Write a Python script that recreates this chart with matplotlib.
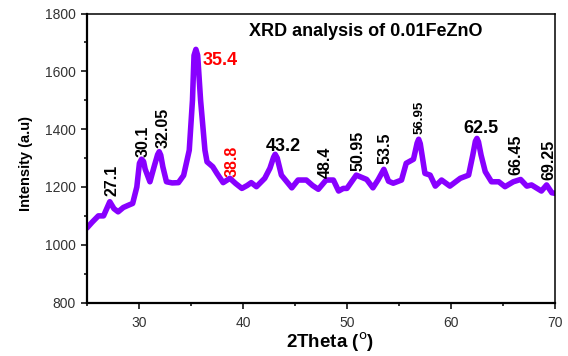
import numpy as np
import matplotlib
matplotlib.use("Agg")
from matplotlib import pyplot as plt
from matplotlib.ticker import MultipleLocator

plt.rcParams['font.family'] = ['Liberation Sans', 'DejaVu Sans']

# diffractogram, 2theta (deg) vs counts
two_theta = [25.0, 25.5, 26.1, 26.6, 27.2, 27.6, 28.0, 28.5, 29.0, 29.4,
             29.8, 30.05, 30.25, 30.45, 30.6, 31.06, 31.5, 31.8, 31.95, 32.1,
             32.3, 32.65, 33.2, 33.8, 34.3, 34.84, 35.15, 35.3, 35.48, 35.65,
             35.93, 36.35, 36.55, 37.1, 37.5, 38.1, 38.75, 39.3, 39.9, 40.4,
             40.8, 41.3, 42.1, 42.6, 42.95, 43.1, 43.3, 43.7, 44.7, 45.3,
             46.1, 46.7, 47.25, 48.0, 48.7, 49.2, 49.65, 50.0, 50.9, 51.9,
             52.5, 53.0, 53.55, 54.0, 54.45, 55.25, 55.7, 56.1, 56.4, 56.75,
             56.9, 57.05, 57.5, 58.0, 58.5, 59.1, 59.9, 60.9, 61.7, 62.1,
             62.35, 62.5, 62.65, 62.9, 63.3, 63.9, 64.6, 65.2, 66.0, 66.7,
             67.3, 67.75, 68.7, 69.2, 69.7, 70.0]
intensity = [1058, 1078, 1100, 1100, 1149, 1125, 1114, 1129, 1137, 1143,
             1200, 1282, 1296, 1288, 1262, 1218, 1275, 1312, 1322, 1310,
             1270, 1218, 1214, 1215, 1240, 1327, 1500, 1655, 1676, 1655,
             1500, 1327, 1287, 1270, 1247, 1215, 1230, 1212, 1195, 1205,
             1215, 1201, 1230, 1265, 1303, 1313, 1300, 1241, 1197, 1224,
             1224, 1205, 1192, 1224, 1224, 1186, 1195, 1195, 1241, 1226,
             1197, 1225, 1261, 1220, 1213, 1224, 1282, 1290, 1296, 1352,
             1365, 1350, 1247, 1241, 1203, 1224, 1203, 1230, 1241, 1310,
             1358, 1368, 1356, 1310, 1253, 1218, 1218, 1201, 1218, 1226,
             1203, 1207, 1186, 1207, 1180, 1178]

# peak labels: text, x, y, rotation, colour, size
peak_labels = ["27.1", "30.1", "32.05", "35.4", "38.8", "43.2", "48.4",
               "50.95", "53.5", "56.95", "62.5", "66.45", "69.25"]
label_x = [27.4, 30.4, 32.3, 36.15, 38.95, 43.9, 47.9,
           51.05, 53.65, 57.0, 62.9, 66.25, 69.4]
label_y = [1224, 1359, 1405, 1639, 1290, 1341, 1287,
           1324, 1334, 1440, 1404, 1310, 1293]
label_rot = [90, 90, 90, 0, 90, 0, 90, 90, 90, 90, 0, 90, 90]
label_col = ["black", "black", "black", "red", "red", "black", "black",
             "black", "black", "black", "black", "black", "black"]
label_size = [11.5, 11.5, 11.5, 13, 11.5, 13, 11.5,
              11.5, 11.5, 9.5, 13, 11.5, 11.5]

fig = plt.figure(figsize=(5.68, 3.56), dpi=100)
ax = fig.add_axes([0.153, 0.150, 0.824, 0.812])

ax.plot(two_theta, intensity, color='#8800ff', lw=4.0,
        solid_joinstyle='round', solid_capstyle='round')

for t, x, y, r, c, s in zip(peak_labels, label_x, label_y, label_rot,
                            label_col, label_size):
    ha = 'left' if t == "35.4" else 'center'
    ax.text(x, y, t, rotation=r, color=c, fontsize=s, fontweight='bold',
            ha=ha, va='center')

ax.text(51.8, 1739, "XRD analysis of 0.01FeZnO", fontsize=13,
        fontweight='bold', ha='center', va='center')

ax.set_xlim(25, 70)
ax.set_ylim(800, 1800)
ax.xaxis.set_major_locator(MultipleLocator(10))
ax.xaxis.set_minor_locator(MultipleLocator(5))
ax.yaxis.set_major_locator(MultipleLocator(200))
ax.yaxis.set_minor_locator(MultipleLocator(100))
ax.tick_params(which='both', direction='out', width=1.1,
               labelsize=10, labelcolor='#333333')
ax.tick_params(which='major', length=4.5)
ax.tick_params(which='minor', length=2.5)
ax.tick_params(axis='x', pad=5)
for side in ['left', 'bottom']:
    ax.spines[side].set_linewidth(1.6)
for side in ['top', 'right']:
    ax.spines[side].set_linewidth(1.1)

ax.set_xlabel("2Theta ($^{\\rm o}$)", fontsize=13.5, fontweight='bold')
ax.set_ylabel("Intensity (a.u)", fontsize=10.5, fontweight='bold')
ax.xaxis.set_label_coords(0.519, -0.137)
ax.yaxis.set_label_coords(-0.13, 0.481)
ax.xaxis.label.set_va('center')
ax.yaxis.label.set_va('center')

fig.savefig("out.png", dpi=100)
